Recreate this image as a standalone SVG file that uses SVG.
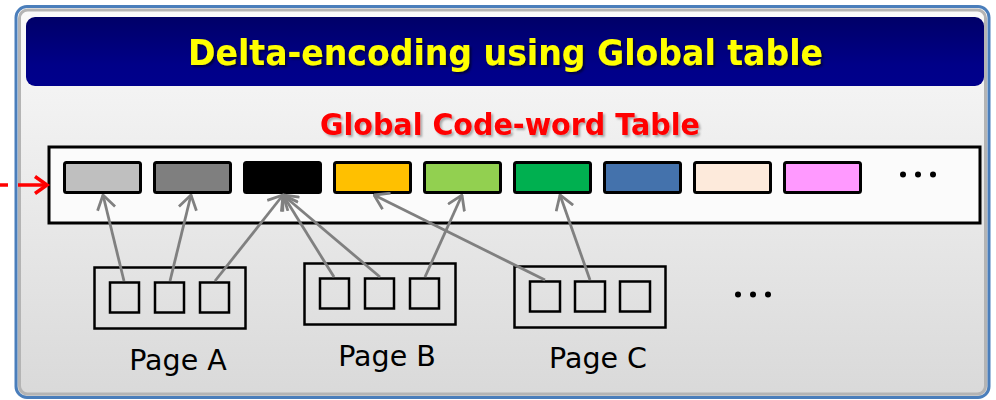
<svg xmlns="http://www.w3.org/2000/svg" width="996" height="400" viewBox="0 0 996 400">
<style>
.cell{stroke:#000;stroke-width:3}
.box{fill:none;stroke:#000;stroke-width:2.5}
.sq{fill:none;stroke:#000;stroke-width:2.5}
.conn{stroke:#808080;stroke-width:2.8;fill:none;marker-end:url(#ah)}
.lbl{font-family:"DejaVu Sans",Verdana,sans-serif;font-size:28.5px;fill:#000;text-anchor:middle}
.dot{fill:#000}
</style>
<defs>
<linearGradient id="bg" x1="0" y1="0" x2="0" y2="1">
<stop offset="0" stop-color="#fafafa"/>
<stop offset="1" stop-color="#d9d9d9"/>
</linearGradient>
<linearGradient id="tb" x1="0" y1="0" x2="0" y2="1">
<stop offset="0" stop-color="#000068"/>
<stop offset="0.7" stop-color="#000088"/>
<stop offset="1" stop-color="#00008c"/>
</linearGradient>
<filter id="sh" x="-5%" y="-20%" width="110%" height="150%">
<feDropShadow dx="2" dy="2" stdDeviation="1.2" flood-color="#000" flood-opacity="0.55"/>
</filter>
<filter id="sh2" x="-5%" y="-20%" width="110%" height="150%">
<feDropShadow dx="2" dy="2" stdDeviation="1.2" flood-color="#000" flood-opacity="0.3"/>
</filter>
<marker id="ah" viewBox="0 0 16 20" refX="15" refY="10" markerWidth="16" markerHeight="20" markerUnits="userSpaceOnUse" orient="auto">
<polyline points="1,1 15,10 1,19" fill="none" stroke="#808080" stroke-width="2.8"/>
</marker>
</defs>
<g id="frame">
<rect x="16" y="6.5" width="973" height="391" rx="11" fill="url(#bg)" stroke="#4a7ebb" stroke-width="3"/>
<rect x="19.5" y="10" width="966" height="384" rx="8" fill="none" stroke="#b4b4b4" stroke-width="3"/>
</g>
<g id="title">
<rect x="26" y="17" width="958" height="69" rx="9" fill="url(#tb)"/>
<text x="505.5" y="65" font-family="'DejaVu Sans',Verdana,sans-serif" font-weight="bold" font-size="35" fill="#ffff00" text-anchor="middle" textLength="635" lengthAdjust="spacingAndGlyphs" filter="url(#sh)">Delta-encoding using Global table</text>
</g>
<g id="subtitle">
<text x="510" y="135" font-family="'DejaVu Sans',Verdana,sans-serif" font-weight="bold" font-size="30.5" fill="#ff0000" text-anchor="middle" textLength="380" lengthAdjust="spacingAndGlyphs" filter="url(#sh2)">Global Code-word Table</text>
</g>
<g id="table">
<rect x="49" y="147" width="931" height="76" fill="#fbfbfb" stroke="#000" stroke-width="3"/>
<rect class="cell" x="64.5" y="162.5" width="76" height="30" rx="2" fill="#bfbfbf"/>
<rect class="cell" x="154.5" y="162.5" width="76" height="30" rx="2" fill="#7f7f7f"/>
<rect class="cell" x="244.5" y="162.5" width="76" height="30" rx="2" fill="#000000"/>
<rect class="cell" x="334.5" y="162.5" width="76" height="30" rx="2" fill="#ffc000"/>
<rect class="cell" x="424.5" y="162.5" width="76" height="30" rx="2" fill="#92d050"/>
<rect class="cell" x="514.5" y="162.5" width="76" height="30" rx="2" fill="#00b050"/>
<rect class="cell" x="604.5" y="162.5" width="76" height="30" rx="2" fill="#4472ac"/>
<rect class="cell" x="694.5" y="162.5" width="76" height="30" rx="2" fill="#fdeadb"/>
<rect class="cell" x="784.5" y="162.5" width="76" height="30" rx="2" fill="#ff99ff"/>
<circle class="dot" cx="903" cy="174.5" r="3"/>
<circle class="dot" cx="918" cy="174.5" r="3"/>
<circle class="dot" cx="933" cy="174.5" r="3"/>
</g>
<g id="pageA">
<rect class="box" x="94.5" y="267.5" width="151" height="61"/>
<rect class="sq" x="110" y="282.5" width="29" height="30"/>
<rect class="sq" x="155" y="282.5" width="29" height="30"/>
<rect class="sq" x="200" y="282.5" width="29" height="30"/>
<text class="lbl" x="178" y="370">Page A</text>
</g>
<g id="pageB">
<rect class="box" x="304.5" y="263.5" width="151" height="61"/>
<rect class="sq" x="320" y="278.5" width="29" height="30"/>
<rect class="sq" x="365" y="278.5" width="29" height="30"/>
<rect class="sq" x="410" y="278.5" width="29" height="30"/>
<text class="lbl" x="387" y="366">Page B</text>
</g>
<g id="pageC">
<rect class="box" x="514.5" y="266.5" width="151" height="61"/>
<rect class="sq" x="530" y="281.5" width="30" height="30"/>
<rect class="sq" x="575" y="281.5" width="30" height="30"/>
<rect class="sq" x="620" y="281.5" width="30" height="30"/>
<text class="lbl" x="598" y="368">Page C</text>
</g>
<g id="more">
<circle class="dot" cx="738" cy="294.5" r="3"/>
<circle class="dot" cx="753" cy="294.5" r="3"/>
<circle class="dot" cx="768" cy="294.5" r="3"/>
</g>
<g id="connectors">
<line class="conn" x1="124" y1="281" x2="103" y2="195"/>
<line class="conn" x1="170" y1="281" x2="191" y2="195"/>
<line class="conn" x1="215" y1="281" x2="283" y2="195"/>
<line class="conn" x1="334" y1="277" x2="283" y2="195"/>
<line class="conn" x1="380" y1="277" x2="283" y2="195"/>
<line class="conn" x1="425" y1="277" x2="462" y2="195"/>
<line class="conn" x1="545" y1="280" x2="374" y2="195"/>
<line class="conn" x1="590" y1="280" x2="560" y2="195"/>
<g id="input-arrow" stroke="#ff0000" stroke-width="3.5" fill="none">
<line x1="0" y1="185" x2="8" y2="185"/>
<line x1="18" y1="185" x2="46" y2="185"/>
<polyline points="35,176.5 47,185 35,193.5"/>
</g>
</g>
</svg>
